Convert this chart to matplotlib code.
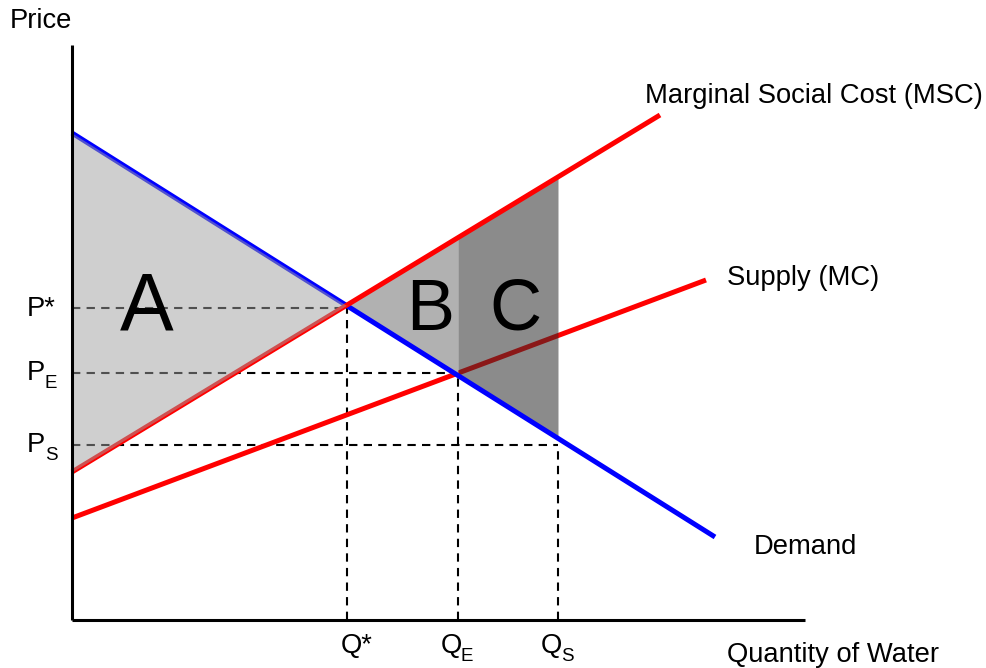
import numpy as np
import matplotlib
matplotlib.use("Agg")
import matplotlib.pyplot as plt

plt.rcParams['font.family'] = ['Liberation Sans', 'DejaVu Sans']

# ---- data ----
demand_q = [0.0, 64.3]
demand_p = [48.7, 8.3]
msc_q = [0.0, 58.8]
msc_p = [14.8, 50.5]
supply_q = [0.0, 63.4]
supply_p = [10.2, 34.0]

q_levels = [27.5, 38.6, 48.6]          # Q*, QE, QS
p_levels = [31.2, 24.7, 17.5]          # P*, PE, PS
q_main = ['Q*', 'Q', 'Q']
q_sub = ['', 'E', 'S']
p_main = ['P*', 'P', 'P']
p_sub = ['', 'E', 'S']
region_labels = ['A', 'B', 'C']

x_axis_end = 73.3
y_axis_end = 57.5

fig = plt.figure(figsize=(9.87, 6.68), dpi=100)
ax = fig.add_axes([0, 0, 1, 1])
ax.set_xlim(-7.2, 91.5)
ax.set_ylim(-4.8, 62.0)
ax.axis('off')

def line_at(qs, ps, x):
    return np.interp(x, qs, ps)

# dashed guide lines
for q, p in zip(q_levels, p_levels):
    ax.plot([0, q], [p, p], color='black', lw=1.5, dashes=(4, 3), zorder=1)
    ax.plot([q, q], [0, p], color='black', lw=1.5, dashes=(4, 3), zorder=1)

# supply line
ax.plot(supply_q, supply_p, color='#ff0000', lw=3.6, solid_capstyle='butt', zorder=2)

# shaded regions
xa = np.linspace(0, q_levels[0], 50)
ax.fill_between(xa, line_at(msc_q, msc_p, xa), line_at(demand_q, demand_p, xa),
                color='#a0a0a0', alpha=0.5, lw=0, zorder=5)
xb = np.linspace(q_levels[0], q_levels[1], 50)
ax.fill_between(xb, line_at(demand_q, demand_p, xb), line_at(msc_q, msc_p, xb),
                color='#b1b1b1', lw=0, zorder=3)
xc = np.linspace(q_levels[1], q_levels[2], 50)
ax.fill_between(xc, line_at(demand_q, demand_p, xc), line_at(msc_q, msc_p, xc),
                color='#2d2d2d', alpha=0.55, lw=0, zorder=3)

# demand and MSC
ax.plot(demand_q, demand_p, color='#0000ff', lw=3.6, solid_capstyle='butt', zorder=4)
ax.plot(msc_q, msc_p, color='#ff0000', lw=3.6, solid_capstyle='butt', zorder=4)

# axes
ax.plot([0, 0], [0, y_axis_end], color='black', lw=2.2, zorder=6, solid_capstyle='butt')
ax.plot([0, x_axis_end], [0, 0], color='black', lw=2.2, zorder=6, solid_capstyle='butt')

fs = 19.7
fs_sub = 13.5
# axis titles
ax.text(-6.2, 59.2, 'Price', fontsize=fs, ha='left', va='baseline')
ax.text(65.5, -4.2, 'Quantity of Water', fontsize=fs, ha='left', va='baseline')

# tick labels on x
for q, m, s in zip(q_levels, q_main, q_sub):
    if s:
        ax.text(q + 0.4, -3.3, m, fontsize=fs, ha='right', va='baseline')
        ax.text(q + 0.3, -4.1, s, fontsize=fs_sub, ha='left', va='baseline')
    else:
        ax.text(q + 1.0, -3.3, m, fontsize=fs, ha='center', va='baseline')
# tick labels on y
p_baseline_off = -0.75
for p, m, s in zip(p_levels, p_main, p_sub):
    ax.text(-4.5, p + p_baseline_off, m, fontsize=fs, ha='left', va='baseline')
    if s:
        ax.text(-2.7, p + p_baseline_off - 0.7, s, fontsize=fs_sub, ha='left', va='baseline')

# curve labels
ax.text(57.3, 51.7, 'Marginal Social Cost (MSC)', fontsize=fs, ha='left', va='baseline')
ax.text(65.5, 33.5, 'Supply (MC)', fontsize=fs, ha='left', va='baseline')
ax.text(68.2, 6.6, 'Demand', fontsize=fs, ha='left', va='baseline')

# region labels
region_x = [7.5, 35.8, 44.3]
region_y = [29.0, 29.0, 29.0]
region_fs = [58, 52, 52]
for x, y, lab, f in zip(region_x, region_y, region_labels, region_fs):
    ax.text(x, y, lab, fontsize=f, ha='center', va='baseline', zorder=7)

fig.savefig('out.png', dpi=100)
